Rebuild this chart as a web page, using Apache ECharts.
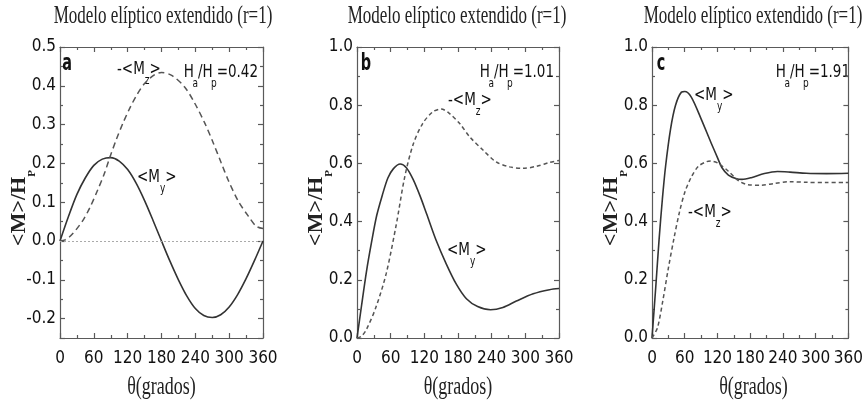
<!DOCTYPE html>
<html><head><meta charset="utf-8">
<script src="https://cdn.jsdelivr.net/npm/echarts@6/dist/echarts.min.js"></script>
<style>html,body{margin:0;padding:0;background:#fff}#c{width:866px;height:409px}</style>
</head><body><div id="c"></div>
<script>
// ---- text ----
const titleText = 'Modelo elíptico extendido (r=1)';
const xAxisName = 'θ(grados)';
const panelLetters = ['a', 'b', 'c'];
const ratioValues = ['0.42', '1.01', '1.91'];

// ---- axes ----
const xMin = 0, xMax = 360, xInterval = 60;
const yRangeA = [-0.25, 0.5];
const yRangeB = [0, 1];
const yRangeC = [0, 1];

// ---- panel a (Ha/Hp = 0.42) ----
const thetaMyA = [0,15,30,45,60,75,90,105,120,135,150,165,180,195,210,225,240,255,270,285,300,315,330,345,360];
const myA = [0,0.063,0.12,0.163,0.195,0.211,0.215,0.206,0.184,0.149,0.104,0.053,0,-0.052,-0.1,-0.142,-0.174,-0.192,-0.197,-0.19,-0.17,-0.138,-0.097,-0.05,0];
const thetaMzA = [0,9,17,29,41,53,67,79,88,100,112,124,136,150,168,180,198,221,239,257,272,286,298,316,334,348,360];
const mzA = [0,0.003,0.011,0.03,0.054,0.086,0.132,0.175,0.214,0.262,0.305,0.343,0.376,0.406,0.429,0.434,0.427,0.397,0.355,0.303,0.252,0.201,0.158,0.103,0.064,0.038,0.032];

// ---- panel b (Ha/Hp = 1.01) ----
const thetaMyB = [0,8,17,26,35,45,55,65,77,88,100,112,124,141,159,177,195,215,238,260,284,314,343,360];
const myB = [0,0.11,0.23,0.33,0.42,0.49,0.55,0.582,0.598,0.585,0.545,0.49,0.427,0.336,0.255,0.185,0.135,0.108,0.097,0.105,0.127,0.152,0.166,0.17];
const thetaMzB = [0,8,17,34,52,70,85,100,117,135,150,165,183,201,225,248,272,296,320,343,360];
const mzB = [0,0.006,0.03,0.107,0.221,0.39,0.553,0.665,0.737,0.777,0.787,0.771,0.737,0.691,0.645,0.605,0.588,0.583,0.59,0.603,0.61];

// ---- panel c (Ha/Hp = 1.91) ----
const thetaMyC = [0,7,13,19,25,34,43,54,60,72,90,108,120,128,140,155,165,182,206,230,253,283,320,360];
const myC = [0,0.178,0.339,0.477,0.592,0.718,0.799,0.845,0.847,0.828,0.753,0.672,0.62,0.586,0.56,0.547,0.545,0.551,0.565,0.572,0.57,0.566,0.565,0.566];
const thetaMzC = [0,10,20,30,40,50,60,72,85,100,108,122,140,159,176,200,224,253,283,320,360];
const mzC = [0,0.035,0.13,0.24,0.34,0.43,0.5,0.553,0.59,0.606,0.608,0.6,0.573,0.54,0.527,0.525,0.531,0.537,0.535,0.534,0.534];

// ---- build ----
const SANS = "'Liberation Sans Narrow','DejaVu Sans Condensed','Liberation Sans',sans-serif";
const SERIF = "'Liberation Serif','DejaVu Serif',serif";
const frameColor = '#5a5a5a';
const curveColor = '#333';
const dashColor = '#555';

const grids = [
  {left: 60, top: 47, width: 203, height: 291},
  {left: 357, top: 47, width: 202, height: 291},
  {left: 652, top: 47, width: 203, height: 291}
];
const yRanges = [yRangeA, yRangeB, yRangeC];
const panels = [
  {ty: thetaMyA, y: myA, tz: thetaMzA, z: mzA, dash: [6, 4]},
  {ty: thetaMyB, y: myB, tz: thetaMzB, z: mzB, dash: [4, 3]},
  {ty: thetaMyC, y: myC, tz: thetaMzC, z: mzC, dash: [4, 3]}
];
const zip = (a, b) => a.map((v, i) => [v, b[i]]);

const lineSt = {color: frameColor, width: 1.2};
const xAxes = [], yAxes = [], series = [];
grids.forEach((g, i) => {
  ['bottom', 'top'].forEach(pos => {
    xAxes.push({
      type: 'value', gridIndex: i, position: pos, min: xMin, max: xMax, interval: xInterval,
      axisLine: {show: true, onZero: false, lineStyle: lineSt},
      axisTick: {show: true, inside: true, length: 5, lineStyle: lineSt},
      minorTick: {show: true, splitNumber: 2, length: 3, lineStyle: lineSt},
      splitLine: {show: false},
      axisLabel: {show: pos === 'bottom', fontFamily: SANS, fontSize: 17, color: '#111', margin: 12}
    });
  });
  const r = yRanges[i];
  ['left', 'right'].forEach(pos => {
    const ax = {
      type: 'value', gridIndex: i, position: pos, min: r[0], max: r[1],
      axisLine: {show: true, onZero: false, lineStyle: lineSt},
      axisTick: {show: true, inside: true, length: 5, lineStyle: lineSt},
      minorTick: {show: true, splitNumber: 2, length: 3, lineStyle: lineSt},
      splitLine: {show: false},
      axisLabel: {show: pos === 'left', fontFamily: SANS, fontSize: 17, color: '#111', margin: 4,
        formatter: v => v.toFixed(1)}
    };
    if (i === 0) { ax.splitNumber = 7; ax.axisLabel.showMinLabel = false; }
    else { ax.interval = 0.2; }
    yAxes.push(ax);
  });
  const p = panels[i];
  const s1 = {
    type: 'line', xAxisIndex: 2 * i, yAxisIndex: 2 * i, data: zip(p.ty, p.y),
    showSymbol: false, smooth: 0.3, lineStyle: {color: curveColor, width: 1.6}, z: 3
  };
  if (i === 0) {
    s1.markLine = {silent: true, symbol: ['none', 'none'], label: {show: false},
      lineStyle: {type: [2, 2], color: '#aaa', width: 1}, data: [{yAxis: 0}]};
  }
  series.push(s1);
  series.push({
    type: 'line', xAxisIndex: 2 * i, yAxisIndex: 2 * i, data: zip(p.tz, p.z),
    showSymbol: false, smooth: 0.3, lineStyle: {color: dashColor, width: 1.5, type: p.dash}, z: 3
  });
});

// ---- text elements ----
const subRich = {
  m: {font: '15px ' + SANS, fill: '#111', verticalAlign: 'top', lineHeight: 15},
  s: {font: '10px ' + SANS, fill: '#111', verticalAlign: 'bottom', lineHeight: 22},
  t: {font: '10px ' + SANS, fill: '#111', verticalAlign: 'bottom', lineHeight: 22, width: 4}
};
function annot(x, y, text, align) {
  return {type: 'text', x: x, y: y - 8, scaleY: 1.2, silent: true,
    style: {text: text, font: '15px ' + SANS, rich: subRich, align: align || 'left', verticalAlign: 'top'}};
}
const graphics = [];
const titleX = [163, 457, 753];
const letterPos = [[67, 64], [366, 64], [661, 64]];
grids.forEach((g, i) => {
  graphics.push({type: 'text', x: titleX[i], y: 16, scaleY: 1.5, silent: true,
    style: {text: titleText, font: '17px ' + SERIF, fill: '#222', align: 'center', verticalAlign: 'middle'}});
  graphics.push({type: 'text', x: g.left + g.width / 2, y: 387, scaleY: 1.4, silent: true,
    style: {text: xAxisName, font: '18px ' + SERIF, fill: '#222', align: 'center', verticalAlign: 'middle'}});
  graphics.push({type: 'text', x: g.left - 37, y: 208, rotation: Math.PI / 2, silent: true,
    style: {text: '{m|<M>/H}{s|P}', font: 'bold 22px ' + SERIF, align: 'center', verticalAlign: 'middle',
      rich: {m: {font: 'bold 22px ' + SERIF, fill: '#222', verticalAlign: 'top', lineHeight: 22},
             s: {font: 'bold 11px ' + SERIF, fill: '#222', verticalAlign: 'bottom', lineHeight: 30}}}});
  graphics.push({type: 'text', x: letterPos[i][0], y: letterPos[i][1], scaleY: 1.45, silent: true,
    style: {text: panelLetters[i], font: 'bold 16px ' + SANS, fill: '#111', align: 'center', verticalAlign: 'middle'}});
  graphics.push(annot(g.left + g.width - 5, 71, '{m|H}{t|a}{m|/H}{t|p}{m|=' + ratioValues[i] + '}', 'right'));
});
const mzLabel = '{m|-<M}{s|z}{m|>}';
const myLabel = '{m|<M}{s|y}{m|>}';
graphics.push(annot(117, 68, mzLabel));
graphics.push(annot(137, 176, myLabel));
graphics.push(annot(448, 99, mzLabel));
graphics.push(annot(447, 249, myLabel));
graphics.push(annot(694, 94, myLabel));
graphics.push(annot(688, 211, mzLabel));

const chart = echarts.init(document.getElementById('c'), null, {renderer: 'canvas'});
chart.setOption({
  animation: false,
  backgroundColor: '#fff',
  grid: grids,
  xAxis: xAxes,
  yAxis: yAxes,
  series: series,
  graphic: graphics
});
</script></body></html>
